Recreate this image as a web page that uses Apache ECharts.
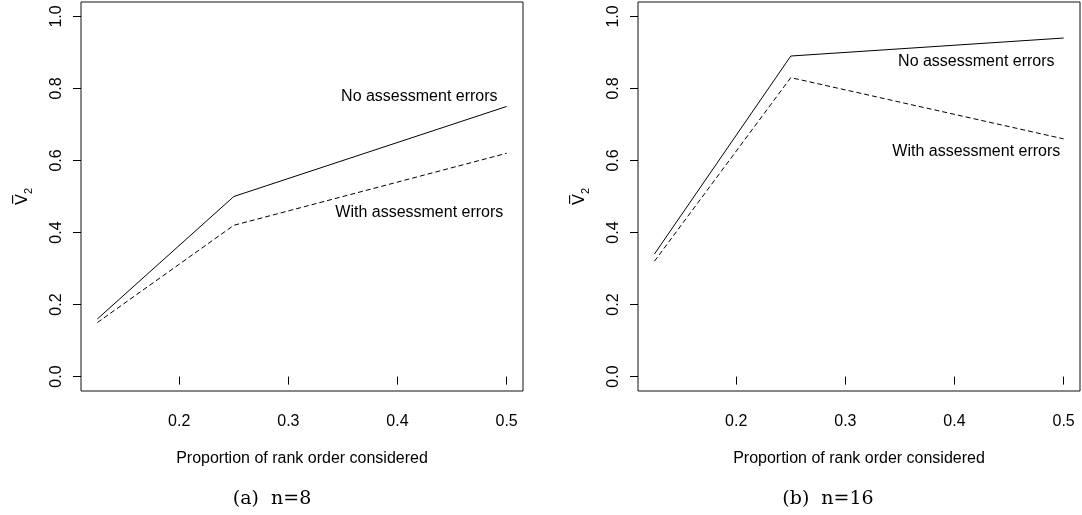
<!DOCTYPE html>
<html>
<head>
<meta charset="utf-8">
<script src="https://cdn.jsdelivr.net/npm/echarts@6/dist/echarts.min.js"></script>
<style>
  html, body { margin: 0; padding: 0; background: #fff; }
  #main { width: 1082px; height: 515px; }
</style>
</head>
<body>
<div id="main"></div>
<script>
// proportion of rank order considered
var xs = [0.125, 0.25, 0.5];
// n = 8
var noErr8 = [0.16, 0.50, 0.75];
var withErr8 = [0.15, 0.42, 0.62];
// n = 16
var noErr16 = [0.34, 0.89, 0.94];
var withErr16 = [0.32, 0.83, 0.66];

var xTicks = [0.2, 0.3, 0.4, 0.5];
var yTicks = [0.0, 0.2, 0.4, 0.6, 0.8, 1.0];
var captions = ['(a)  n=8', '(b)  n=16'];
var seriesNames = ['No assessment errors', 'With assessment errors'];
// text annotations, in data units [x, y]
var noteAt8 = [[0.42, 0.776], [0.42, 0.456]];
var noteAt16 = [[0.42, 0.875], [0.42, 0.626]];

var font = 'Liberation Sans, Arial, Helvetica, sans-serif';
var myChart = echarts.init(document.getElementById('main'));

function pairs(v) {
    var out = [];
    for (var i = 0; i < xs.length; i++) out.push([xs[i], v[i]]);
    return out;
}

function xAxisFor(idx) {
    return {
        type: 'value', gridIndex: idx, min: 0.11, max: 0.515,
        axisLine: {show: false},
        splitLine: {show: false},
        axisTick: {show: true, length: 8, customValues: xTicks, lineStyle: {color: '#000'}},
        axisLabel: {customValues: xTicks, margin: 23, fontSize: 16, color: '#000', fontFamily: font,
            formatter: function (v) { return v.toFixed(1); }},
        name: 'Proportion of rank order considered',
        nameLocation: 'middle', nameGap: 60,
        nameTextStyle: {fontSize: 16, color: '#000', fontFamily: font}
    };
}

function yAxisFor(idx) {
    return {
        type: 'value', gridIndex: idx, min: -0.04, max: 1.04,
        axisLine: {show: false},
        splitLine: {show: false},
        axisTick: {show: true, length: 8, customValues: yTicks, lineStyle: {color: '#000'}},
        axisLabel: {customValues: yTicks, rotate: 90, margin: 16, fontSize: 16, color: '#000', fontFamily: font,
            formatter: function (v) { return v.toFixed(1); }},
        name: '{v|V\u0305}{s|2}',
        nameLocation: 'middle', nameGap: 47, nameRotate: 90,
        nameTextStyle: {
            rich: {
                v: {fontSize: 16, color: '#000', fontFamily: 'DejaVu Sans', lineHeight: 22},
                s: {fontSize: 11, color: '#000', fontFamily: font, lineHeight: 22, verticalAlign: 'bottom', padding: [8, 0, 0, 0]}
            }
        }
    };
}

function lineSeries(name, idx, v, dashed, notes) {
    return {
        name: name, type: 'line', xAxisIndex: idx, yAxisIndex: idx,
        data: pairs(v), symbol: 'none', silent: true,
        lineStyle: {color: '#000', width: 1, type: dashed ? [5, 3] : 'solid'},
        markPoint: {
            symbol: 'circle', symbolSize: 0, silent: true,
            label: {show: true, position: 'inside', fontSize: 16, color: '#000', fontFamily: font,
                formatter: name},
            data: [{coord: notes}]
        }
    };
}

var captionStyle = {fontFamily: 'DejaVu Serif, serif', fontWeight: 'normal', fontSize: 19, color: '#000'};

var option = {
    animation: false,
    backgroundColor: '#fff',
    title: [
        {text: captions[0], left: 267, top: 485, textAlign: 'center', textStyle: captionStyle},
        {text: captions[1], left: 823, top: 485, textAlign: 'center', textStyle: captionStyle}
    ],
    grid: [
        {left: 81, right: 559, top: 2, bottom: 124, show: true, borderColor: '#111', borderWidth: 1, backgroundColor: 'transparent'},
        {left: 638, right: 2, top: 2, bottom: 124, show: true, borderColor: '#111', borderWidth: 1, backgroundColor: 'transparent'}
    ],
    xAxis: [xAxisFor(0), xAxisFor(1)],
    yAxis: [yAxisFor(0), yAxisFor(1)],
    series: [
        lineSeries(seriesNames[0], 0, noErr8, false, noteAt8[0]),
        lineSeries(seriesNames[1], 0, withErr8, true, noteAt8[1]),
        lineSeries(seriesNames[0], 1, noErr16, false, noteAt16[0]),
        lineSeries(seriesNames[1], 1, withErr16, true, noteAt16[1])
    ]
};
myChart.setOption(option);
</script>
</body>
</html>
